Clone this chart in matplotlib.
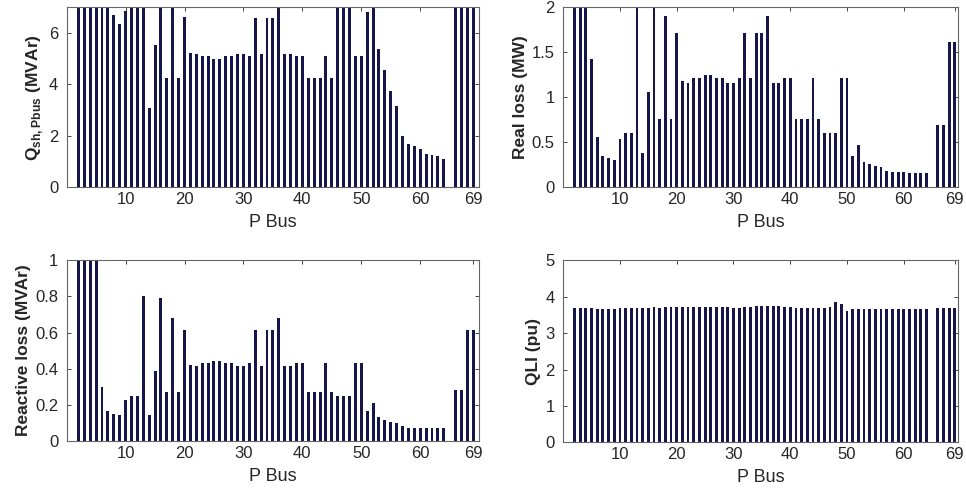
import matplotlib
matplotlib.use('Agg')
import matplotlib.pyplot as plt

plt.rcParams['font.family'] = ['Liberation Sans', 'DejaVu Sans']
plt.rcParams['mathtext.fontset'] = 'custom'
plt.rcParams['mathtext.rm'] = 'Liberation Sans'
plt.rcParams['mathtext.bf'] = 'Liberation Sans:bold'

# bus 1 is the slack bus, bus 65 has no bar
buses = list(range(2, 65)) + [66, 67, 68, 69]

q_sh = [7.5, 7.5, 7.5, 7.5, 7.5, 7.5, 6.72, 6.37, 6.85, 7.5,
        7.5, 7.5, 3.08, 5.52, 7.5, 4.25, 7.5, 4.25, 6.63, 5.22,
        5.20, 5.12, 5.12, 4.99, 4.99, 5.12, 5.12, 5.20, 5.20, 5.12,
        6.59, 5.19, 6.59, 6.59, 7.5, 5.19, 5.19, 5.12, 5.12, 4.25,
        4.25, 4.25, 5.12, 4.25, 7.5, 7.5, 7.5, 5.12, 5.12, 6.81,
        7.5, 5.39, 4.55, 3.76, 3.17, 2.00, 1.68, 1.59, 1.48, 1.29,
        1.26, 1.23, 1.09,
        7.5, 7.5, 7.5, 7.5]

real_loss = [2.5, 2.5, 2.5, 1.43, 0.56, 0.35, 0.32, 0.30, 0.54, 0.60,
             0.60, 2.5, 0.38, 1.06, 2.5, 0.76, 1.90, 0.76, 1.72, 1.18,
             1.16, 1.21, 1.21, 1.25, 1.25, 1.21, 1.21, 1.16, 1.16, 1.21,
             1.72, 1.21, 1.72, 1.72, 1.90, 1.16, 1.16, 1.21, 1.21, 0.76,
             0.76, 0.76, 1.21, 0.76, 0.60, 0.60, 0.60, 1.21, 1.21, 0.35,
             0.47, 0.285, 0.26, 0.24, 0.22, 0.185, 0.167, 0.167, 0.167, 0.156,
             0.163, 0.163, 0.163,
             0.69, 0.69, 1.61, 1.61]

reactive_loss = [1.2, 1.2, 1.2, 1.2, 0.296, 0.167, 0.152, 0.144, 0.228, 0.25,
                 0.25, 0.80, 0.143, 0.385, 0.79, 0.272, 0.68, 0.272, 0.615, 0.42,
                 0.415, 0.43, 0.43, 0.444, 0.444, 0.43, 0.43, 0.415, 0.415, 0.43,
                 0.615, 0.415, 0.615, 0.615, 0.68, 0.415, 0.415, 0.43, 0.43, 0.272,
                 0.272, 0.272, 0.43, 0.272, 0.25, 0.25, 0.25, 0.43, 0.43, 0.167,
                 0.21, 0.13, 0.117, 0.107, 0.098, 0.083, 0.074, 0.074, 0.074, 0.07,
                 0.072, 0.072, 0.074,
                 0.28, 0.28, 0.615, 0.615]

qli = [3.70, 3.70, 3.69, 3.68, 3.67, 3.67, 3.67, 3.67, 3.68, 3.68,
       3.69, 3.70, 3.70, 3.70, 3.71, 3.70, 3.71, 3.71, 3.71, 3.71,
       3.71, 3.71, 3.71, 3.71, 3.71, 3.71, 3.71, 3.71, 3.70, 3.69,
       3.71, 3.71, 3.74, 3.75, 3.73, 3.73, 3.73, 3.72, 3.72, 3.70,
       3.70, 3.70, 3.70, 3.70, 3.70, 3.72, 3.86, 3.81, 3.60, 3.67,
       3.67, 3.67, 3.67, 3.67, 3.67, 3.67, 3.67, 3.67, 3.67, 3.67,
       3.67, 3.67, 3.67,
       3.69, 3.69, 3.69, 3.69]

xticks = [10, 20, 30, 40, 50, 60, 69]
bar_color = '#16164a'
text_color = '#262626'


def bar_panel(rect, values, ylim, yticks, ytick_labels, ylabel, xmax):
    ax = fig.add_axes(rect)
    ax.bar(buses, values, width=0.5, color=bar_color)
    ax.set_xlim(0, xmax)
    ax.set_ylim(ylim)
    ax.set_xticks(xticks)
    ax.set_yticks(yticks)
    ax.set_yticklabels(ytick_labels)
    ax.tick_params(direction='in', top=True, right=True, length=3,
                   labelsize=12, colors=text_color, width=0.6)
    ax.tick_params(axis='y', pad=6)
    for s in ax.spines.values():
        s.set_color('#666666')
        s.set_linewidth(0.8)
    ax.set_xlabel('P Bus', fontsize=13, color=text_color, labelpad=5)
    ax.set_ylabel(ylabel, fontsize=12.5, fontweight='bold', color=text_color,
                  labelpad=3)
    return ax


fig = plt.figure(figsize=(9.66, 4.9), dpi=100)

bar_panel([0.069, 0.618, 0.427, 0.367], q_sh, (0, 7), [0, 2, 4, 6],
          ['0', '2', '4', '6'],
          r'$\mathbf{Q}_{\mathbf{sh,Pbus}}$ (MVAr)', 70)
bar_panel([0.583, 0.618, 0.409, 0.367], real_loss, (0, 2),
          [0, 0.5, 1, 1.5, 2], ['0', '0.5', '1', '1.5', '2'],
          'Real loss (MW)', 69.6)
bar_panel([0.069, 0.100, 0.427, 0.369], reactive_loss, (0, 1),
          [0, 0.2, 0.4, 0.6, 0.8, 1], ['0', '0.2', '0.4', '0.6', '0.8', '1'],
          'Reactive loss (MVAr)', 70)
bar_panel([0.583, 0.097, 0.409, 0.372], qli, (0, 5),
          [0, 1, 2, 3, 4, 5], ['0', '1', '2', '3', '4', '5'],
          'QLI (pu)', 69.6)

plt.savefig('out.png', dpi=100)
